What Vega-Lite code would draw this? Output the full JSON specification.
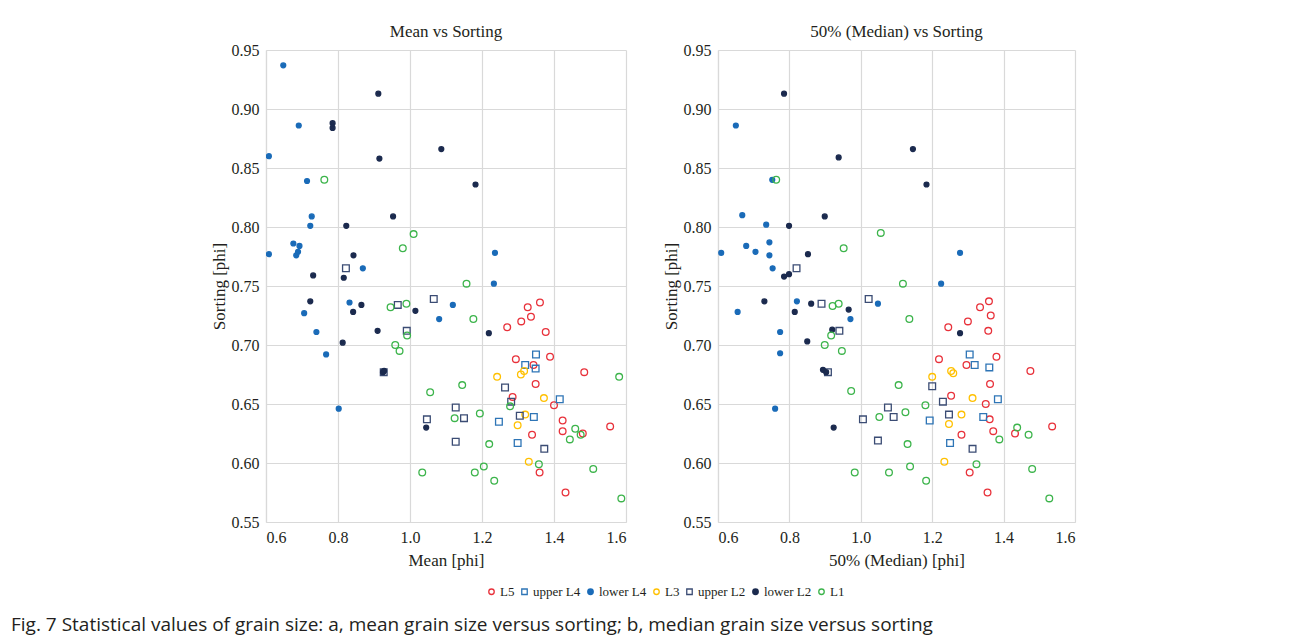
{
 "$schema": "https://vega.github.io/schema/vega-lite/v6.json",
 "padding": {"left": 11, "top": 23, "right": 10, "bottom": 4},
 "datasets": {"pts": [
  {"panel":"mean","group":"L5","x":1.361,"sorting":0.736},{"panel":"mean","group":"L5","x":1.327,"sorting":0.732},{"panel":"mean","group":"L5","x":1.336,"sorting":0.724},{"panel":"mean","group":"L5","x":1.309,"sorting":0.720},{"panel":"mean","group":"L5","x":1.270,"sorting":0.715},{"panel":"mean","group":"L5","x":1.377,"sorting":0.711},{"panel":"mean","group":"L5","x":1.294,"sorting":0.688},{"panel":"mean","group":"L5","x":1.389,"sorting":0.690},{"panel":"mean","group":"L5","x":1.343,"sorting":0.683},{"panel":"mean","group":"L5","x":1.484,"sorting":0.677},{"panel":"mean","group":"L5","x":1.349,"sorting":0.667},{"panel":"mean","group":"L5","x":1.285,"sorting":0.656},{"panel":"mean","group":"L5","x":1.400,"sorting":0.649},{"panel":"mean","group":"L5","x":1.424,"sorting":0.636},{"panel":"mean","group":"L5","x":1.424,"sorting":0.627},{"panel":"mean","group":"L5","x":1.480,"sorting":0.625},{"panel":"mean","group":"L5","x":1.556,"sorting":0.631},{"panel":"mean","group":"L5","x":1.339,"sorting":0.624},{"panel":"mean","group":"L5","x":1.360,"sorting":0.592},{"panel":"mean","group":"L5","x":1.432,"sorting":0.575},
  {"panel":"mean","group":"upper L4","x":1.350,"sorting":0.692},{"panel":"mean","group":"upper L4","x":1.320,"sorting":0.683},{"panel":"mean","group":"upper L4","x":1.349,"sorting":0.680},{"panel":"mean","group":"upper L4","x":1.416,"sorting":0.654},{"panel":"mean","group":"upper L4","x":1.247,"sorting":0.635},{"panel":"mean","group":"upper L4","x":1.344,"sorting":0.639},{"panel":"mean","group":"upper L4","x":1.299,"sorting":0.617},
  {"panel":"mean","group":"lower L4","x":0.648,"sorting":0.937},{"panel":"mean","group":"lower L4","x":0.691,"sorting":0.886},{"panel":"mean","group":"lower L4","x":0.608,"sorting":0.860},{"panel":"mean","group":"lower L4","x":0.714,"sorting":0.839},{"panel":"mean","group":"lower L4","x":0.727,"sorting":0.809},{"panel":"mean","group":"lower L4","x":0.723,"sorting":0.801},{"panel":"mean","group":"lower L4","x":0.676,"sorting":0.786},{"panel":"mean","group":"lower L4","x":0.693,"sorting":0.784},{"panel":"mean","group":"lower L4","x":0.689,"sorting":0.779},{"panel":"mean","group":"lower L4","x":0.684,"sorting":0.776},{"panel":"mean","group":"lower L4","x":0.608,"sorting":0.777},{"panel":"mean","group":"lower L4","x":0.869,"sorting":0.765},{"panel":"mean","group":"lower L4","x":0.832,"sorting":0.736},{"panel":"mean","group":"lower L4","x":0.706,"sorting":0.727},{"panel":"mean","group":"lower L4","x":1.081,"sorting":0.722},{"panel":"mean","group":"lower L4","x":0.740,"sorting":0.711},{"panel":"mean","group":"lower L4","x":0.767,"sorting":0.692},{"panel":"mean","group":"lower L4","x":1.236,"sorting":0.778},{"panel":"mean","group":"lower L4","x":1.233,"sorting":0.752},{"panel":"mean","group":"lower L4","x":1.119,"sorting":0.734},{"panel":"mean","group":"lower L4","x":0.802,"sorting":0.646},
  {"panel":"mean","group":"L3","x":1.242,"sorting":0.673},{"panel":"mean","group":"L3","x":1.317,"sorting":0.678},{"panel":"mean","group":"L3","x":1.308,"sorting":0.675},{"panel":"mean","group":"L3","x":1.372,"sorting":0.655},{"panel":"mean","group":"L3","x":1.320,"sorting":0.641},{"panel":"mean","group":"L3","x":1.299,"sorting":0.632},{"panel":"mean","group":"L3","x":1.330,"sorting":0.601},
  {"panel":"mean","group":"upper L2","x":0.822,"sorting":0.765},{"panel":"mean","group":"upper L2","x":0.966,"sorting":0.734},{"panel":"mean","group":"upper L2","x":1.066,"sorting":0.739},{"panel":"mean","group":"upper L2","x":0.991,"sorting":0.712},{"panel":"mean","group":"upper L2","x":0.927,"sorting":0.677},{"panel":"mean","group":"upper L2","x":1.264,"sorting":0.664},{"panel":"mean","group":"upper L2","x":1.281,"sorting":0.652},{"panel":"mean","group":"upper L2","x":1.127,"sorting":0.647},{"panel":"mean","group":"upper L2","x":1.150,"sorting":0.638},{"panel":"mean","group":"upper L2","x":1.305,"sorting":0.640},{"panel":"mean","group":"upper L2","x":1.047,"sorting":0.637},{"panel":"mean","group":"upper L2","x":1.127,"sorting":0.618},{"panel":"mean","group":"upper L2","x":1.373,"sorting":0.612},
  {"panel":"mean","group":"lower L2","x":0.912,"sorting":0.913},{"panel":"mean","group":"lower L2","x":0.785,"sorting":0.888},{"panel":"mean","group":"lower L2","x":0.785,"sorting":0.884},{"panel":"mean","group":"lower L2","x":1.087,"sorting":0.866},{"panel":"mean","group":"lower L2","x":0.915,"sorting":0.858},{"panel":"mean","group":"lower L2","x":0.953,"sorting":0.809},{"panel":"mean","group":"lower L2","x":1.182,"sorting":0.836},{"panel":"mean","group":"lower L2","x":0.823,"sorting":0.801},{"panel":"mean","group":"lower L2","x":0.843,"sorting":0.776},{"panel":"mean","group":"lower L2","x":0.731,"sorting":0.759},{"panel":"mean","group":"lower L2","x":0.816,"sorting":0.757},{"panel":"mean","group":"lower L2","x":0.723,"sorting":0.737},{"panel":"mean","group":"lower L2","x":0.865,"sorting":0.734},{"panel":"mean","group":"lower L2","x":0.842,"sorting":0.728},{"panel":"mean","group":"lower L2","x":1.015,"sorting":0.729},{"panel":"mean","group":"lower L2","x":0.910,"sorting":0.712},{"panel":"mean","group":"lower L2","x":0.813,"sorting":0.702},{"panel":"mean","group":"lower L2","x":1.219,"sorting":0.710},{"panel":"mean","group":"lower L2","x":0.925,"sorting":0.677},{"panel":"mean","group":"lower L2","x":0.928,"sorting":0.678},{"panel":"mean","group":"lower L2","x":1.045,"sorting":0.630},
  {"panel":"mean","group":"L1","x":0.762,"sorting":0.840},{"panel":"mean","group":"L1","x":1.010,"sorting":0.794},{"panel":"mean","group":"L1","x":0.980,"sorting":0.782},{"panel":"mean","group":"L1","x":1.157,"sorting":0.752},{"panel":"mean","group":"L1","x":0.946,"sorting":0.732},{"panel":"mean","group":"L1","x":0.990,"sorting":0.735},{"panel":"mean","group":"L1","x":1.176,"sorting":0.722},{"panel":"mean","group":"L1","x":0.992,"sorting":0.708},{"panel":"mean","group":"L1","x":0.959,"sorting":0.700},{"panel":"mean","group":"L1","x":0.971,"sorting":0.695},{"panel":"mean","group":"L1","x":1.581,"sorting":0.673},{"panel":"mean","group":"L1","x":1.145,"sorting":0.666},{"panel":"mean","group":"L1","x":1.056,"sorting":0.660},{"panel":"mean","group":"L1","x":1.278,"sorting":0.648},{"panel":"mean","group":"L1","x":1.194,"sorting":0.642},{"panel":"mean","group":"L1","x":1.124,"sorting":0.638},{"panel":"mean","group":"L1","x":1.459,"sorting":0.629},{"panel":"mean","group":"L1","x":1.474,"sorting":0.624},{"panel":"mean","group":"L1","x":1.444,"sorting":0.620},{"panel":"mean","group":"L1","x":1.220,"sorting":0.616},{"panel":"mean","group":"L1","x":1.358,"sorting":0.599},{"panel":"mean","group":"L1","x":1.205,"sorting":0.597},{"panel":"mean","group":"L1","x":1.180,"sorting":0.592},{"panel":"mean","group":"L1","x":1.034,"sorting":0.592},{"panel":"mean","group":"L1","x":1.509,"sorting":0.595},{"panel":"mean","group":"L1","x":1.234,"sorting":0.585},{"panel":"mean","group":"L1","x":1.587,"sorting":0.570},
  {"panel":"median","group":"L5","x":1.359,"sorting":0.737},{"panel":"median","group":"L5","x":1.334,"sorting":0.732},{"panel":"median","group":"L5","x":1.364,"sorting":0.725},{"panel":"median","group":"L5","x":1.300,"sorting":0.720},{"panel":"median","group":"L5","x":1.245,"sorting":0.715},{"panel":"median","group":"L5","x":1.357,"sorting":0.712},{"panel":"median","group":"L5","x":1.219,"sorting":0.688},{"panel":"median","group":"L5","x":1.380,"sorting":0.690},{"panel":"median","group":"L5","x":1.296,"sorting":0.683},{"panel":"median","group":"L5","x":1.475,"sorting":0.678},{"panel":"median","group":"L5","x":1.362,"sorting":0.667},{"panel":"median","group":"L5","x":1.253,"sorting":0.657},{"panel":"median","group":"L5","x":1.350,"sorting":0.650},{"panel":"median","group":"L5","x":1.361,"sorting":0.637},{"panel":"median","group":"L5","x":1.371,"sorting":0.627},{"panel":"median","group":"L5","x":1.432,"sorting":0.625},{"panel":"median","group":"L5","x":1.536,"sorting":0.631},{"panel":"median","group":"L5","x":1.282,"sorting":0.624},{"panel":"median","group":"L5","x":1.305,"sorting":0.592},{"panel":"median","group":"L5","x":1.355,"sorting":0.575},
  {"panel":"median","group":"upper L4","x":1.305,"sorting":0.692},{"panel":"median","group":"upper L4","x":1.319,"sorting":0.683},{"panel":"median","group":"upper L4","x":1.360,"sorting":0.681},{"panel":"median","group":"upper L4","x":1.384,"sorting":0.654},{"panel":"median","group":"upper L4","x":1.343,"sorting":0.639},{"panel":"median","group":"upper L4","x":1.193,"sorting":0.636},{"panel":"median","group":"upper L4","x":1.250,"sorting":0.617},
  {"panel":"median","group":"lower L4","x":0.650,"sorting":0.886},{"panel":"median","group":"lower L4","x":0.752,"sorting":0.840},{"panel":"median","group":"lower L4","x":0.668,"sorting":0.810},{"panel":"median","group":"lower L4","x":0.735,"sorting":0.802},{"panel":"median","group":"lower L4","x":0.679,"sorting":0.784},{"panel":"median","group":"lower L4","x":0.744,"sorting":0.787},{"panel":"median","group":"lower L4","x":0.705,"sorting":0.779},{"panel":"median","group":"lower L4","x":0.609,"sorting":0.778},{"panel":"median","group":"lower L4","x":0.744,"sorting":0.776},{"panel":"median","group":"lower L4","x":0.753,"sorting":0.765},{"panel":"median","group":"lower L4","x":0.821,"sorting":0.737},{"panel":"median","group":"lower L4","x":0.655,"sorting":0.728},{"panel":"median","group":"lower L4","x":0.971,"sorting":0.722},{"panel":"median","group":"lower L4","x":1.048,"sorting":0.735},{"panel":"median","group":"lower L4","x":0.774,"sorting":0.711},{"panel":"median","group":"lower L4","x":0.774,"sorting":0.693},{"panel":"median","group":"lower L4","x":1.278,"sorting":0.778},{"panel":"median","group":"lower L4","x":1.225,"sorting":0.752},{"panel":"median","group":"lower L4","x":0.760,"sorting":0.646},
  {"panel":"median","group":"L3","x":1.200,"sorting":0.673},{"panel":"median","group":"L3","x":1.253,"sorting":0.678},{"panel":"median","group":"L3","x":1.259,"sorting":0.676},{"panel":"median","group":"L3","x":1.313,"sorting":0.655},{"panel":"median","group":"L3","x":1.282,"sorting":0.641},{"panel":"median","group":"L3","x":1.247,"sorting":0.633},{"panel":"median","group":"L3","x":1.234,"sorting":0.601},
  {"panel":"median","group":"upper L2","x":0.820,"sorting":0.765},{"panel":"median","group":"upper L2","x":0.890,"sorting":0.735},{"panel":"median","group":"upper L2","x":1.022,"sorting":0.739},{"panel":"median","group":"upper L2","x":0.940,"sorting":0.712},{"panel":"median","group":"upper L2","x":0.908,"sorting":0.677},{"panel":"median","group":"upper L2","x":1.200,"sorting":0.665},{"panel":"median","group":"upper L2","x":1.230,"sorting":0.652},{"panel":"median","group":"upper L2","x":1.076,"sorting":0.647},{"panel":"median","group":"upper L2","x":1.092,"sorting":0.639},{"panel":"median","group":"upper L2","x":1.247,"sorting":0.641},{"panel":"median","group":"upper L2","x":1.006,"sorting":0.637},{"panel":"median","group":"upper L2","x":1.048,"sorting":0.619},{"panel":"median","group":"upper L2","x":1.313,"sorting":0.612},
  {"panel":"median","group":"lower L2","x":0.785,"sorting":0.913},{"panel":"median","group":"lower L2","x":0.938,"sorting":0.859},{"panel":"median","group":"lower L2","x":1.146,"sorting":0.866},{"panel":"median","group":"lower L2","x":1.184,"sorting":0.836},{"panel":"median","group":"lower L2","x":0.899,"sorting":0.809},{"panel":"median","group":"lower L2","x":0.799,"sorting":0.801},{"panel":"median","group":"lower L2","x":0.852,"sorting":0.777},{"panel":"median","group":"lower L2","x":0.785,"sorting":0.758},{"panel":"median","group":"lower L2","x":0.799,"sorting":0.760},{"panel":"median","group":"lower L2","x":0.730,"sorting":0.737},{"panel":"median","group":"lower L2","x":0.861,"sorting":0.735},{"panel":"median","group":"lower L2","x":0.815,"sorting":0.728},{"panel":"median","group":"lower L2","x":0.966,"sorting":0.730},{"panel":"median","group":"lower L2","x":0.920,"sorting":0.713},{"panel":"median","group":"lower L2","x":0.850,"sorting":0.703},{"panel":"median","group":"lower L2","x":1.278,"sorting":0.710},{"panel":"median","group":"lower L2","x":0.894,"sorting":0.679},{"panel":"median","group":"lower L2","x":0.903,"sorting":0.677},{"panel":"median","group":"lower L2","x":0.924,"sorting":0.630},
  {"panel":"median","group":"L1","x":0.763,"sorting":0.840},{"panel":"median","group":"L1","x":1.056,"sorting":0.795},{"panel":"median","group":"L1","x":0.952,"sorting":0.782},{"panel":"median","group":"L1","x":1.118,"sorting":0.752},{"panel":"median","group":"L1","x":0.938,"sorting":0.735},{"panel":"median","group":"L1","x":0.921,"sorting":0.733},{"panel":"median","group":"L1","x":1.136,"sorting":0.722},{"panel":"median","group":"L1","x":0.917,"sorting":0.708},{"panel":"median","group":"L1","x":0.899,"sorting":0.700},{"panel":"median","group":"L1","x":0.947,"sorting":0.695},{"panel":"median","group":"L1","x":1.106,"sorting":0.666},{"panel":"median","group":"L1","x":0.973,"sorting":0.661},{"panel":"median","group":"L1","x":1.181,"sorting":0.649},{"panel":"median","group":"L1","x":1.125,"sorting":0.643},{"panel":"median","group":"L1","x":1.052,"sorting":0.639},{"panel":"median","group":"L1","x":1.438,"sorting":0.630},{"panel":"median","group":"L1","x":1.470,"sorting":0.624},{"panel":"median","group":"L1","x":1.388,"sorting":0.620},{"panel":"median","group":"L1","x":1.131,"sorting":0.616},{"panel":"median","group":"L1","x":1.324,"sorting":0.599},{"panel":"median","group":"L1","x":1.138,"sorting":0.597},{"panel":"median","group":"L1","x":1.079,"sorting":0.592},{"panel":"median","group":"L1","x":0.983,"sorting":0.592},{"panel":"median","group":"L1","x":1.480,"sorting":0.595},{"panel":"median","group":"L1","x":1.183,"sorting":0.585},{"panel":"median","group":"L1","x":1.528,"sorting":0.570}
 ]},
 "data": {"name": "pts"},
 "title": {"text": "Fig. 7 Statistical values of grain size: a, mean grain size versus sorting; b, median grain size versus sorting", "orient": "bottom", "anchor": "start", "font": "Open Sans", "fontSize": 19, "fontWeight": "normal", "color": "#231f20", "dx": -199, "offset": 17},
 "spacing": 36,
 "resolve": {"scale": {"stroke": "shared", "fill": "shared", "shape": "shared"}, "legend": {"stroke": "shared", "fill": "shared", "shape": "shared"}},
 "hconcat": [
  {
   "width": 360, "height": 472,
   "title": "Mean vs Sorting",
   "transform": [{"filter": "datum.panel == 'mean'"}],
   "mark": {"type": "point", "opacity": 1, "strokeWidth": 1.3, "clip": true},
   "encoding": {
    "x": {"field": "x", "type": "quantitative", "scale": {"domain": [0.6, 1.6], "nice": false, "zero": false}, "axis": {"title": "Mean [phi]", "values": [0.6, 0.8, 1.0, 1.2, 1.4, 1.6], "format": ".1f"}},
    "y": {"field": "sorting", "type": "quantitative", "scale": {"domain": [0.55, 0.95], "nice": false, "zero": false}, "axis": {"title": "Sorting [phi]", "values": [0.55, 0.6, 0.65, 0.7, 0.75, 0.8, 0.85, 0.9, 0.95], "format": ".2f"}},
    "stroke": {"field": "group", "type": "nominal", "scale": {"domain": ["L5", "upper L4", "lower L4", "L3", "upper L2", "lower L2", "L1"], "range": ["#E8313A", "#2E75B6", "#1A6BB8", "#FFC000", "#3B4C74", "#1B2A4E", "#3CB44B"]}, "legend": {"title": null, "orient": "none", "direction": "horizontal", "legendX": 219, "legendY": 535}},
    "fill": {"field": "group", "type": "nominal", "scale": {"domain": ["L5", "upper L4", "lower L4", "L3", "upper L2", "lower L2", "L1"], "range": ["transparent", "transparent", "#1A6BB8", "transparent", "transparent", "#1B2A4E", "transparent"]}, "legend": {"title": null, "orient": "none", "direction": "horizontal", "legendX": 219, "legendY": 535}},
    "shape": {"field": "group", "type": "nominal", "scale": {"domain": ["L5", "upper L4", "lower L4", "L3", "upper L2", "lower L2", "L1"], "range": ["circle", "square", "circle", "circle", "square", "circle", "circle"]}, "legend": {"title": null, "orient": "none", "direction": "horizontal", "legendX": 219, "legendY": 535}},
    "size": {"condition": {"test": "datum.group == 'lower L4' || datum.group == 'lower L2'", "value": 24}, "value": 45}
   }
  },
  {
   "width": 357, "height": 472,
   "title": "50% (Median) vs Sorting",
   "transform": [{"filter": "datum.panel == 'median'"}],
   "mark": {"type": "point", "opacity": 1, "strokeWidth": 1.3, "clip": true},
   "encoding": {
    "x": {"field": "x", "type": "quantitative", "scale": {"domain": [0.6, 1.6], "nice": false, "zero": false}, "axis": {"title": "50% (Median) [phi]", "values": [0.6, 0.8, 1.0, 1.2, 1.4, 1.6], "format": ".1f"}},
    "y": {"field": "sorting", "type": "quantitative", "scale": {"domain": [0.55, 0.95], "nice": false, "zero": false}, "axis": {"title": "Sorting [phi]", "values": [0.55, 0.6, 0.65, 0.7, 0.75, 0.8, 0.85, 0.9, 0.95], "format": ".2f"}},
    "stroke": {"field": "group", "type": "nominal", "scale": {"domain": ["L5", "upper L4", "lower L4", "L3", "upper L2", "lower L2", "L1"], "range": ["#E8313A", "#2E75B6", "#1A6BB8", "#FFC000", "#3B4C74", "#1B2A4E", "#3CB44B"]}, "legend": {"title": null, "orient": "none", "direction": "horizontal", "legendX": 219, "legendY": 535}},
    "fill": {"field": "group", "type": "nominal", "scale": {"domain": ["L5", "upper L4", "lower L4", "L3", "upper L2", "lower L2", "L1"], "range": ["transparent", "transparent", "#1A6BB8", "transparent", "transparent", "#1B2A4E", "transparent"]}, "legend": {"title": null, "orient": "none", "direction": "horizontal", "legendX": 219, "legendY": 535}},
    "shape": {"field": "group", "type": "nominal", "scale": {"domain": ["L5", "upper L4", "lower L4", "L3", "upper L2", "lower L2", "L1"], "range": ["circle", "square", "circle", "circle", "square", "circle", "circle"]}, "legend": {"title": null, "orient": "none", "direction": "horizontal", "legendX": 219, "legendY": 535}},
    "size": {"condition": {"test": "datum.group == 'lower L4' || datum.group == 'lower L2'", "value": 24}, "value": 45}
   }
  }
 ],
 "config": {
  "font": "Liberation Serif",
  "view": {"stroke": null},
  "axis": {"grid": true, "gridColor": "#d9d9d9", "gridWidth": 1.2, "domainColor": "#d9d9d9", "domainWidth": 1.2, "ticks": false, "labelFont": "Liberation Serif", "labelFontSize": 16, "labelColor": "#231f20", "titleFont": "Liberation Serif", "titleFontSize": 17, "titleFontWeight": "normal", "titleColor": "#231f20", "labelPadding": 7},
  "axisX": {"titlePadding": 7},
  "axisY": {"titlePadding": 3},
  "title": {"font": "Liberation Serif", "fontSize": 17, "fontWeight": "normal", "color": "#231f20", "offset": 1},
  "legend": {"labelFont": "Liberation Serif", "labelFontSize": 13, "labelColor": "#231f20", "symbolSize": 30, "symbolStrokeWidth": 1.3, "columnPadding": 3, "labelOffset": 2, "padding": 0}
 }
}
